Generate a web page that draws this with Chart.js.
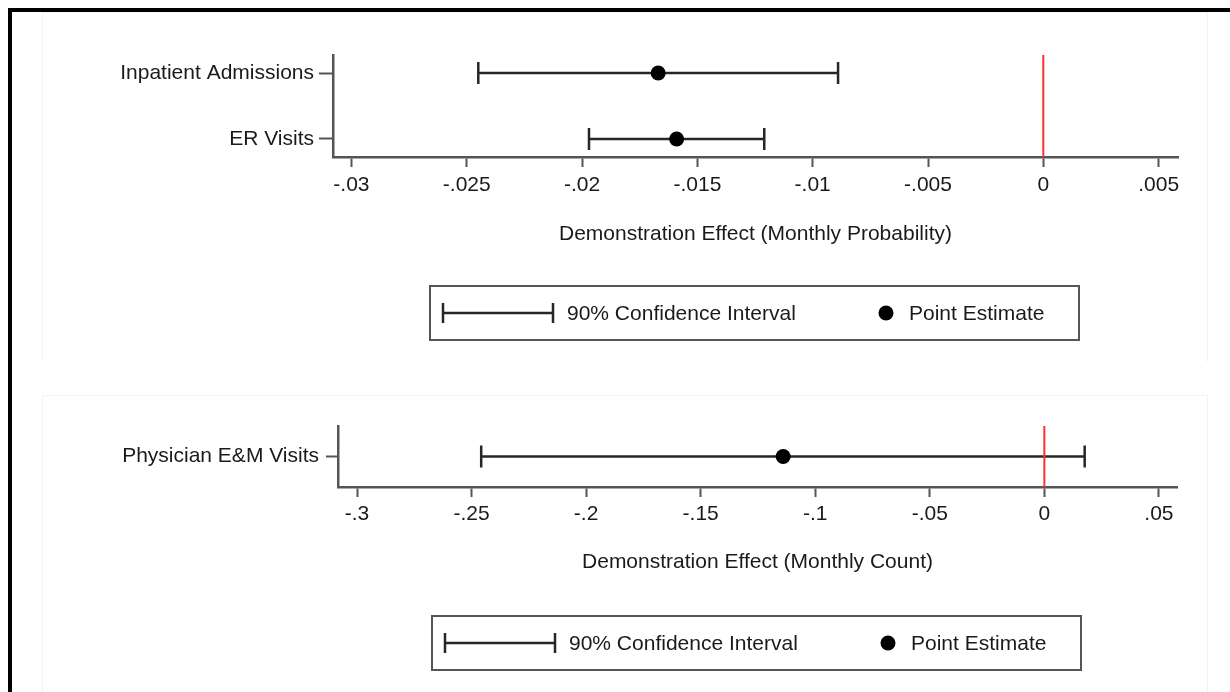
<!DOCTYPE html>
<html>
<head>
<meta charset="utf-8">
<script src="https://cdn.jsdelivr.net/npm/chart.js@4.4.1/dist/chart.umd.min.js"></script>
<style>
  html, body { margin: 0; padding: 0; background: #fff; width: 1230px; height: 692px; overflow: hidden; }
  #frame { position: absolute; left: 8px; top: 8px; right: 0; bottom: 0; border-top: 4px solid #000; border-left: 4px solid #000; }
  #c1 { position: absolute; left: 0; top: 0; }
  #c2 { position: absolute; left: 0; top: 362px; }
</style>
</head>
<body>
<div id="frame"></div>
<canvas id="c1" width="1230" height="362"></canvas>
<canvas id="c2" width="1230" height="330"></canvas>
<script>
// ---- Data: top panel (monthly probability) ----
const categoriesProb = ['Inpatient Admissions', 'ER Visits'];
const estimateProb   = [-0.0167, -0.0159];
const lowerProb      = [-0.0245, -0.0197];
const upperProb      = [-0.0089, -0.0121];
const xTicksProb     = [-0.03, -0.025, -0.02, -0.015, -0.01, -0.005, 0, 0.005];
const xTitleProb     = 'Demonstration Effect (Monthly Probability)';

// ---- Data: bottom panel (monthly count) ----
const categoriesCount = ['Physician E&M Visits'];
const estimateCount   = [-0.114];
const lowerCount      = [-0.2458];
const upperCount      = [0.0176];
const xTicksCount     = [-0.3, -0.25, -0.2, -0.15, -0.1, -0.05, 0, 0.05];
const xTitleCount     = 'Demonstration Effect (Monthly Count)';

const legendLabels = ['90% Confidence Interval', 'Point Estimate'];

// ---- Styles ----
const FONT_FAMILY = "'Liberation Sans', Arial, Helvetica, sans-serif";
const FONT = { family: FONT_FAMILY, size: 21 };
const TEXT = '#1a1a1a';
const AXIS = '#555555';
const CI_COLOR = '#262626';
const RED = '#ff3030';

function fmt(v) {
  if (Math.abs(v) < 1e-12) return '0';
  return String(v).replace(/^(-?)0\./, '$1.');
}

const panelFrame = {
  id: 'panelFrame',
  beforeDraw(chart, args, o) {
    const ctx = chart.ctx;
    ctx.save();
    ctx.strokeStyle = '#f3f3f3';
    ctx.lineWidth = 1;
    ctx.strokeRect(o.left + 0.5, o.top + 0.5, o.right - o.left, o.bottom - o.top);
    ctx.restore();
  }
};

const ciLegend = {
  id: 'ciLegend',
  afterDraw(chart, args, o) {
    const { ctx, chartArea: a } = chart;
    const w = 649, h = 54;
    const cx = (a.left + a.right) / 2 - 1;
    const left = cx - w / 2;
    const top = a.bottom + o.offset;
    const my = top + h / 2;
    ctx.save();
    ctx.strokeStyle = AXIS;
    ctx.lineWidth = 2;
    ctx.strokeRect(left, top, w, h);
    ctx.strokeStyle = CI_COLOR;
    ctx.lineWidth = 2.5;
    ctx.beginPath();
    ctx.moveTo(left + 13, my); ctx.lineTo(left + 123, my);
    ctx.moveTo(left + 13, my - 10); ctx.lineTo(left + 13, my + 10);
    ctx.moveTo(left + 123, my - 10); ctx.lineTo(left + 123, my + 10);
    ctx.stroke();
    ctx.font = '21px ' + FONT_FAMILY;
    ctx.textBaseline = 'middle';
    ctx.textAlign = 'left';
    ctx.fillStyle = TEXT;
    ctx.fillText(legendLabels[0], left + 137, my + 1);
    ctx.fillStyle = '#000';
    ctx.beginPath();
    ctx.arc(left + 456, my, 7.5, 0, Math.PI * 2);
    ctx.fill();
    ctx.fillStyle = TEXT;
    ctx.fillText(legendLabels[1], left + 479, my + 1);
    ctx.restore();
  }
};

function buildChart(canvas, p) {
  const n = p.categories.length;
  const rowY = i => n - i;
  const datasets = [];
  datasets.push({
    label: legendLabels[1],
    data: p.estimate.map((v, i) => ({ x: v, y: rowY(i) })),
    pointRadius: 7.5, pointHoverRadius: 7.5,
    backgroundColor: '#000', borderWidth: 0, order: 0
  });
  datasets.push({
    label: 'zero',
    data: [{ x: 0, y: p.yMin }, { x: 0, y: p.yMax }],
    showLine: true, borderColor: RED, borderWidth: 2,
    pointRadius: 0, order: 1
  });
  p.categories.forEach((c, i) => {
    datasets.push({
      label: legendLabels[0],
      data: [{ x: p.lower[i], y: rowY(i) }, { x: p.upper[i], y: rowY(i) }],
      showLine: true, borderColor: CI_COLOR, borderWidth: 2.5,
      pointStyle: 'line', rotation: 90, pointRadius: 11, pointHoverRadius: 11,
      pointBorderColor: CI_COLOR, pointBorderWidth: 2.5, order: 2
    });
  });

  return new Chart(canvas, {
    type: 'scatter',
    data: { datasets },
    plugins: [panelFrame, ciLegend],
    options: {
      responsive: false,
      animation: false,
      events: [],
      layout: { padding: { left: 0, right: p.padRight, top: p.padTop, bottom: p.padBottom } },
      plugins: {
        legend: { display: false },
        tooltip: { enabled: false },
        panelFrame: p.frame,
        ciLegend: { offset: 129 }
      },
      scales: {
        x: {
          type: 'linear', min: p.xMin, max: p.xMax,
          afterBuildTicks: ax => { ax.ticks = p.xTicks.map(v => ({ value: v })); },
          afterFit: ax => { ax.height = 100; },
          grid: { drawOnChartArea: false, drawTicks: true, tickLength: 10, tickColor: AXIS, tickWidth: 2 },
          border: { display: true, color: AXIS, width: 2.5 },
          ticks: { callback: v => fmt(v), color: TEXT, font: FONT, padding: p.xTickPad, maxRotation: 0, autoSkip: false },
          title: { display: true, text: p.xTitle, color: TEXT, font: FONT, padding: { top: 0, bottom: p.titlePad } }
        },
        y: {
          type: 'linear', min: p.yMin, max: p.yMax,
          afterBuildTicks: ax => { ax.ticks = p.categories.map((c, i) => ({ value: rowY(i) })).sort((a, b) => a.value - b.value); },
          afterFit: ax => { ax.width = p.yAxisWidth; },
          grid: { drawOnChartArea: false, drawTicks: true, tickLength: p.yTickLen, tickColor: AXIS, tickWidth: 2 },
          border: { display: true, color: AXIS, width: 2.5 },
          ticks: { callback: v => p.categories[n - v], color: TEXT, font: FONT, padding: p.yTickPad, autoSkip: false }
        }
      }
    }
  });
}

buildChart(document.getElementById('c1'), {
  categories: categoriesProb, estimate: estimateProb, lower: lowerProb, upper: upperProb,
  xTicks: xTicksProb, xTitle: xTitleProb,
  xMin: -0.0308, xMax: 0.00584, yMin: 0.727, yMax: 2.273,
  padRight: 52, padTop: 55, padBottom: 105, yAxisWidth: 333, titlePad: 10,
  xTickPad: 6, yTickLen: 14, yTickPad: 5,
  frame: { left: 42, top: 12, right: 1207, bottom: 362 }
});

buildChart(document.getElementById('c2'), {
  categories: categoriesCount, estimate: estimateCount, lower: lowerCount, upper: upperCount,
  xTicks: xTicksCount, xTitle: xTitleCount,
  xMin: -0.3083, xMax: 0.0579, yMin: 0.5, yMax: 1.5,
  padRight: 53, padTop: 64, padBottom: 105, yAxisWidth: 338, titlePad: 12.5,
  xTickPad: 5, yTickLen: 12, yTickPad: 7,
  frame: { left: 42, top: 33, right: 1207, bottom: 340 }
});
</script>
</body>
</html>
